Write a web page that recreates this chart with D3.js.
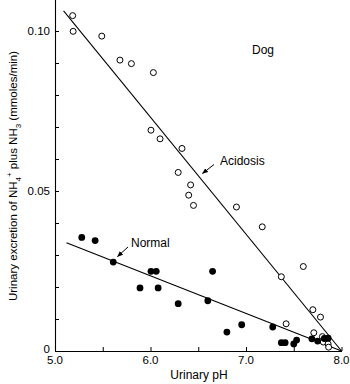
<!DOCTYPE html>
<html>
<head>
<meta charset="utf-8">
<script src="https://cdn.jsdelivr.net/npm/d3@7"></script>
<style>
  body { margin: 0; background: #fff; }
  text { font-family: "Liberation Sans", Arial, sans-serif; fill: #000; }
</style>
</head>
<body>
<div id="chart"></div>
<script>
// acidosis points (open circles): [pH, excretion]
const acidosisPts = [
  [5.185, 0.1048], [5.19, 0.0999], [5.49, 0.0984], [5.68, 0.0909], [5.80, 0.0898],
  [6.03, 0.0870], [6.005, 0.0690], [6.10, 0.0663], [6.33, 0.0633], [6.29, 0.0558],
  [6.42, 0.0519], [6.40, 0.0487], [6.45, 0.0455], [6.90, 0.0450], [7.17, 0.0388],
  [7.60, 0.0264], [7.37, 0.0232], [7.70, 0.0129], [7.78, 0.0106], [7.42, 0.0085],
  [7.71, 0.0057], [7.80, 0.0045], [7.81, 0.0028], [7.86, 0.0022], [7.865, 0.0012]
];
// normal points (filled circles)
const normalPts = [
  [5.28, 0.0355], [5.42, 0.0345], [5.61, 0.0278], [6.005, 0.0249], [6.06, 0.0249],
  [5.89, 0.0197], [6.08, 0.0197], [6.29, 0.0148], [6.65, 0.0249], [6.60, 0.0157],
  [6.80, 0.0059], [6.955, 0.0082], [7.28, 0.0075], [7.37, 0.0026], [7.41, 0.0026],
  [7.50, 0.0022], [7.53, 0.0034], [7.69, 0.0038], [7.75, 0.0031], [7.82, 0.0039],
  [7.86, 0.0040]
];
// fitted lines
const acidosisLine = [[5.09, 0.1063], [8.0, 0]];
const normalLine = [[5.12, 0.0338], [8.0, 0]];

const xTicks = [5.0, 5.5, 6.0, 6.5, 7.0, 7.5, 8.0];
const xLabels = [5.0, 6.0, 7.0, 8.0];
const yTicks = [0, 0.01, 0.02, 0.03, 0.04, 0.05, 0.06, 0.07, 0.08, 0.09, 0.10];
const yLabels = [0.05, 0.10];

const W = 350, H = 384;
const svg = d3.select("#chart").append("svg")
  .attr("width", W).attr("height", H);

const x = d3.scaleLinear().domain([5, 8]).range([55, 341.5]);
const y = d3.scaleLinear().domain([0, 0.11]).range([351, -1]);

// x axis
const xAxis = svg.append("g")
  .attr("transform", `translate(0,${y(0)})`)
  .call(d3.axisBottom(x).tickValues(xTicks).tickSizeInner(-4).tickSizeOuter(0).tickFormat(""));
xAxis.select(".domain").attr("stroke-width", 1.1);
xAxis.selectAll(".tick line").attr("stroke-width", 1);
svg.selectAll(".xlab").data(xLabels).join("text")
  .attr("x", d => x(d)).attr("y", 364)
  .attr("text-anchor", "middle").attr("font-size", 11.5)
  .text(d => d.toFixed(1));

// y axis
const yAxis = svg.append("g")
  .attr("transform", `translate(${x(5)},0)`)
  .call(d3.axisLeft(y).tickValues(yTicks).tickSizeInner(-4).tickSizeOuter(0).tickFormat(""));
yAxis.select(".domain").attr("stroke-width", 1.1);
svg.selectAll(".ylab").data(yLabels).join("text")
  .attr("x", 50).attr("y", d => y(d)).attr("dy", "0.35em")
  .attr("text-anchor", "end").attr("font-size", 11.5)
  .text(d => d.toFixed(2));
svg.append("text").attr("x", 50).attr("y", 353)
  .attr("text-anchor", "end").attr("font-size", 11.5).text("0");

// fitted lines
const line = d3.line().x(d => x(d[0])).y(d => y(d[1]));
[acidosisLine, normalLine].forEach(l => {
  svg.append("path").attr("d", line(l))
    .attr("fill", "none").attr("stroke", "#000").attr("stroke-width", 1.1);
});

// points
svg.selectAll(".open").data(acidosisPts).join("circle")
  .attr("cx", d => x(d[0])).attr("cy", d => y(d[1])).attr("r", 3)
  .attr("fill", "#fff").attr("stroke", "#000").attr("stroke-width", 1);
svg.selectAll(".fill").data(normalPts).join("circle")
  .attr("cx", d => x(d[0])).attr("cy", d => y(d[1])).attr("r", 3.4)
  .attr("fill", "#000");

// arrows
svg.append("defs").append("marker")
  .attr("id", "ah").attr("viewBox", "0 0 10 10").attr("refX", 9).attr("refY", 5)
  .attr("markerWidth", 6).attr("markerHeight", 6).attr("orient", "auto")
  .append("path").attr("d", "M0,1 L10,5 L0,9 Z").attr("fill", "#000");
svg.append("line").attr("x1", 214).attr("y1", 164.5).attr("x2", 202.5).attr("y2", 173.5)
  .attr("stroke", "#000").attr("stroke-width", 1).attr("marker-end", "url(#ah)");
svg.append("line").attr("x1", 128).attr("y1", 247).attr("x2", 117.5).attr("y2", 256.5)
  .attr("stroke", "#000").attr("stroke-width", 1).attr("marker-end", "url(#ah)");

// annotations
svg.append("text").attr("x", 263).attr("y", 54).attr("text-anchor", "middle")
  .attr("font-size", 12).text("Dog");
svg.append("text").attr("x", 220).attr("y", 165).attr("font-size", 12).text("Acidosis");
svg.append("text").attr("x", 131).attr("y", 247).attr("font-size", 12).text("Normal");

// axis titles
svg.append("text").attr("x", 199).attr("y", 379).attr("text-anchor", "middle")
  .attr("font-size", 12).text("Urinary pH");
const yt = svg.append("text")
  .attr("transform", "translate(17,176) rotate(-90)")
  .attr("text-anchor", "middle").attr("font-size", 11.5);
yt.append("tspan").text("Urinary excretion of NH");
yt.append("tspan").attr("font-size", 8).attr("dy", 4).text("4");
yt.append("tspan").attr("font-size", 8).attr("dy", -9).text("+");
yt.append("tspan").attr("dy", 5).text(" plus NH");
yt.append("tspan").attr("font-size", 8).attr("dy", 4).text("3");
yt.append("tspan").attr("dy", -4).text(" (mmoles/min)");
</script>
</body>
</html>
